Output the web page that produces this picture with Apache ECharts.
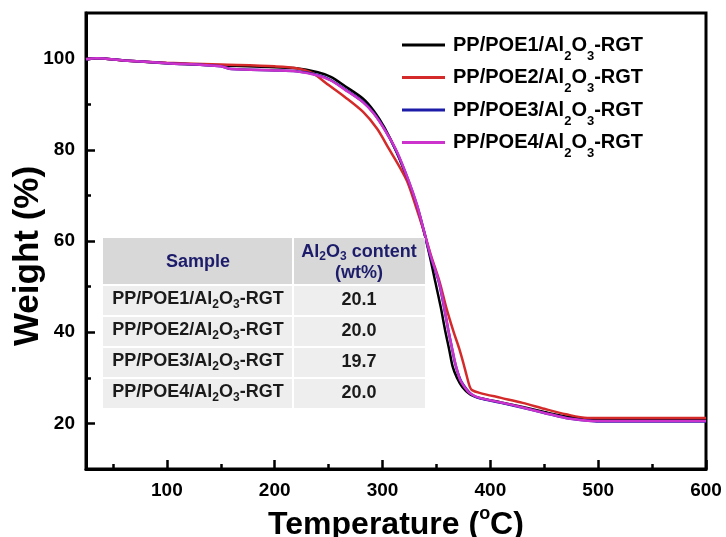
<!DOCTYPE html>
<html>
<head>
<meta charset="utf-8">
<title>TGA curves</title>
<script src="https://cdn.jsdelivr.net/npm/echarts@6/dist/echarts.min.js"></script>
<style>
  html, body { margin: 0; padding: 0; background: #fff; }
  #chart { width: 726px; height: 537px; }
</style>
</head>
<body>
<div id="chart"></div>
<script>
// series names and colours
const seriesNames = ['PP/POE1/Al2O3-RGT', 'PP/POE2/Al2O3-RGT', 'PP/POE3/Al2O3-RGT', 'PP/POE4/Al2O3-RGT'];
const colors = ['#000000', '#d42a2a', '#1c1ca8', '#cc33cc'];

// [temperature (C), weight (%)]
const poe1 = [[25, 99.8], [35, 100.1], [60, 99.6], [100, 99.0], [150, 98.5], [200, 98.1], [220, 97.9], [240, 97.0], [252, 96.0], [265, 94.0], [282, 91.2], [292, 88.5], [302, 84.8], [313, 79.5], [324, 73.0], [332, 67.5], [338, 62.4], [344, 56.5], [349, 51.0], [354, 45.5], [358, 40.5], [362, 36.0], [365, 32.5], [369, 30.0], [374, 28.0], [381, 26.4], [390, 25.6], [410, 24.6], [430, 23.6], [450, 22.5], [470, 21.5], [490, 20.9], [510, 20.7], [600, 20.7]];
const poe2 = [[25, 99.8], [35, 100.1], [60, 99.6], [100, 99.1], [150, 98.7], [200, 98.3], [220, 97.9], [235, 96.8], [250, 94.2], [265, 91.6], [282, 88.3], [295, 84.6], [306, 80.2], [315, 76.6], [323, 73.0], [331, 67.5], [338, 62.4], [345, 56.8], [353, 51.0], [359, 45.5], [366, 40.0], [371, 36.5], [375, 33.2], [378, 30.5], [381, 28.0], [383, 27.3], [390, 26.7], [410, 25.6], [430, 24.5], [450, 23.2], [470, 22.0], [490, 21.2], [510, 21.2], [600, 21.2]];
const poe3 = [[25, 99.8], [35, 100.1], [60, 99.6], [100, 99.0], [150, 98.3], [160, 97.7], [200, 97.4], [220, 97.2], [240, 96.4], [252, 95.3], [265, 93.3], [282, 90.5], [292, 88.0], [302, 84.5], [313, 79.6], [324, 73.3], [332, 67.8], [338, 62.6], [344, 57.0], [352, 51.2], [357, 45.5], [361, 40.5], [364, 37.0], [367, 33.5], [370, 31.0], [373, 29.2], [378, 27.5], [383, 26.3], [390, 25.5], [410, 24.5], [430, 23.4], [450, 22.3], [470, 21.2], [490, 20.6], [500, 20.4], [600, 20.4]];
const poe4 = [[25, 99.9], [35, 100.1], [60, 99.6], [100, 99.0], [150, 98.3], [160, 97.7], [200, 97.4], [220, 97.2], [240, 96.3], [252, 95.2], [265, 93.2], [282, 90.4], [292, 87.9], [302, 84.4], [313, 79.8], [324, 73.4], [332, 67.9], [338, 62.6], [345, 56.5], [352, 51.4], [356, 47.0], [361, 40.5], [364.5, 36.5], [367.5, 33.2], [370, 31.0], [372, 29.5], [376, 28.0], [381, 26.6], [390, 25.6], [410, 24.6], [430, 23.5], [450, 22.3], [470, 21.2], [490, 20.6], [500, 20.5], [600, 20.5]];

// axis ticks
const xMajor = [100, 200, 300, 400, 500, 600];
const xMinor = [50, 150, 250, 350, 450, 550];
const yMajor = [20, 40, 60, 80, 100];
const yMinor = [30, 50, 70, 90];

// inset table
const tableSamples = ['PP/POE1/Al2O3-RGT', 'PP/POE2/Al2O3-RGT', 'PP/POE3/Al2O3-RGT', 'PP/POE4/Al2O3-RGT'];
const tableContent = ['20.1', '20.0', '19.7', '20.0'];

const FONT = '"Liberation Sans", Arial, sans-serif';
const sub = s => s.split('Al2O3').join('Al{s|2}O{s|3}');

const myChart = echarts.init(document.getElementById('chart'));

function tickAxis(values, len, extra) {
  return Object.assign({
    type: 'value',
    axisLine: { show: false },
    axisTick: { show: true, inside: true, length: len, customValues: values, lineStyle: { color: '#000', width: 2.5 } },
    axisLabel: { show: false },
    splitLine: { show: false }
  }, extra);
}

// table graphic
const tb = { left: 103, top: 238, w1: 190, w2: 132, headH: 47, rowH: 31 };
const tableEls = [];
tableEls.push({ type: 'rect', shape: { x: tb.left, y: tb.top, width: tb.w1 + tb.w2, height: tb.headH + tb.rowH * 4 }, style: { fill: '#ffffff' }, z: 50 });
tableEls.push({ type: 'rect', shape: { x: tb.left, y: tb.top, width: tb.w1 - 1, height: tb.headH - 1 }, style: { fill: '#d8d8d8' }, z: 51 });
tableEls.push({ type: 'rect', shape: { x: tb.left + tb.w1 + 1, y: tb.top, width: tb.w2 - 1, height: tb.headH - 1 }, style: { fill: '#d8d8d8' }, z: 51 });
const subRich = { s: { fontSize: 12, fontWeight: 'bold', fontFamily: FONT, padding: [10, 0, 0, 0] } };
tableEls.push({ type: 'text', x: tb.left + tb.w1 / 2, y: tb.top + tb.headH / 2 + 1, z: 52,
  style: { text: 'Sample', fill: '#1c1c6b', fontSize: 18, fontWeight: 'bold', fontFamily: FONT, align: 'center', verticalAlign: 'middle' } });
tableEls.push({ type: 'text', x: tb.left + tb.w1 + tb.w2 / 2, y: tb.top + 14, z: 52,
  style: { text: 'Al{s|2}O{s|3} content', fill: '#1c1c6b', fontSize: 18, fontWeight: 'bold', fontFamily: FONT, align: 'center', verticalAlign: 'middle', rich: subRich } });
tableEls.push({ type: 'text', x: tb.left + tb.w1 + tb.w2 / 2, y: tb.top + 35, z: 52,
  style: { text: '(wt%)', fill: '#1c1c6b', fontSize: 18, fontWeight: 'bold', fontFamily: FONT, align: 'center', verticalAlign: 'middle' } });
tableSamples.forEach((name, i) => {
  const y0 = tb.top + tb.headH + i * tb.rowH + 1;
  tableEls.push({ type: 'rect', shape: { x: tb.left, y: y0, width: tb.w1 - 1, height: tb.rowH - 2 }, style: { fill: '#eeeeee' }, z: 51 });
  tableEls.push({ type: 'rect', shape: { x: tb.left + tb.w1 + 1, y: y0, width: tb.w2 - 1, height: tb.rowH - 2 }, style: { fill: '#eeeeee' }, z: 51 });
  tableEls.push({ type: 'text', x: tb.left + tb.w1 / 2, y: y0 + tb.rowH / 2 - 2, z: 52,
    style: { text: sub(name), fill: '#1a1a1a', fontSize: 18, fontWeight: 'bold', fontFamily: FONT, align: 'center', verticalAlign: 'middle', rich: subRich } });
  tableEls.push({ type: 'text', x: tb.left + tb.w1 + tb.w2 / 2, y: y0 + tb.rowH / 2 - 1, z: 52,
    style: { text: tableContent[i], fill: '#1a1a1a', fontSize: 18, fontWeight: 'bold', fontFamily: FONT, align: 'center', verticalAlign: 'middle' } });
});

const option = {
  animation: false,
  backgroundColor: '#ffffff',
  textStyle: { fontFamily: FONT },
  grid: { left: 86, right: 20, top: 13, bottom: 68, show: true, borderColor: '#000', borderWidth: 3, outerBoundsMode: 'none' },
  legend: {
    orient: 'vertical',
    left: 397,
    top: 30,
    itemWidth: 43,
    itemHeight: 3,
    itemGap: 5,
    icon: 'rect',
    data: seriesNames,
    formatter: n => sub(n),
    textStyle: {
      fontFamily: FONT, fontSize: 20, fontWeight: 'bold', color: '#000', padding: [0, 0, 0, 3],
      rich: { s: { fontSize: 13, fontWeight: 'bold', fontFamily: FONT, padding: [22, 0, 0, 0] } }
    }
  },
  xAxis: [
    {
      type: 'value', min: 25, max: 600,
      name: 'Temperature ({o|o}C)',
      nameLocation: 'middle',
      nameGap: 36,
      nameTextStyle: {
        fontFamily: FONT, fontSize: 32, fontWeight: 'bold', color: '#000',
        rich: { o: { fontSize: 18, fontWeight: 'bold', fontFamily: FONT, padding: [0, 0, 22, 0] } }
      },
      axisLine: { show: true, onZero: false, lineStyle: { color: '#000', width: 3 } },
      axisTick: { show: true, inside: true, length: 9, customValues: xMajor, lineStyle: { color: '#000', width: 2.5 } },
      axisLabel: { customValues: xMajor, margin: 12, fontFamily: FONT, fontSize: 19, fontWeight: 'bold', color: '#000' },
      splitLine: { show: false }
    },
    tickAxis(xMinor, 5, { min: 25, max: 600, position: 'bottom' })
  ],
  yAxis: [
    {
      type: 'value', min: 10, max: 110,
      name: 'Weight (%)',
      nameLocation: 'middle',
      nameGap: 40,
      nameMoveOverlap: false,
      nameTextStyle: { fontFamily: FONT, fontSize: 35, fontWeight: 'bold', color: '#000', padding: [0, 30, 0, 0] },
      axisLine: { show: true, onZero: false, lineStyle: { color: '#000', width: 3 } },
      axisTick: { show: true, inside: true, length: 9, customValues: yMajor, lineStyle: { color: '#000', width: 2.5 } },
      axisLabel: { customValues: yMajor, margin: 11, fontFamily: FONT, fontSize: 19, fontWeight: 'bold', color: '#000' },
      splitLine: { show: false }
    },
    tickAxis(yMinor, 5, { min: 10, max: 110, position: 'left' })
  ],
  graphic: tableEls,
  series: [poe1, poe2, poe3, poe4].map((d, i) => ({
    name: seriesNames[i],
    type: 'line',
    data: d,
    showSymbol: false,
    symbol: 'none',
    smooth: 0.3,
    color: colors[i],
    lineStyle: { color: colors[i], width: 2.5 },
    z: 2 + i
  }))
};

myChart.setOption(option);
</script>
</body>
</html>
